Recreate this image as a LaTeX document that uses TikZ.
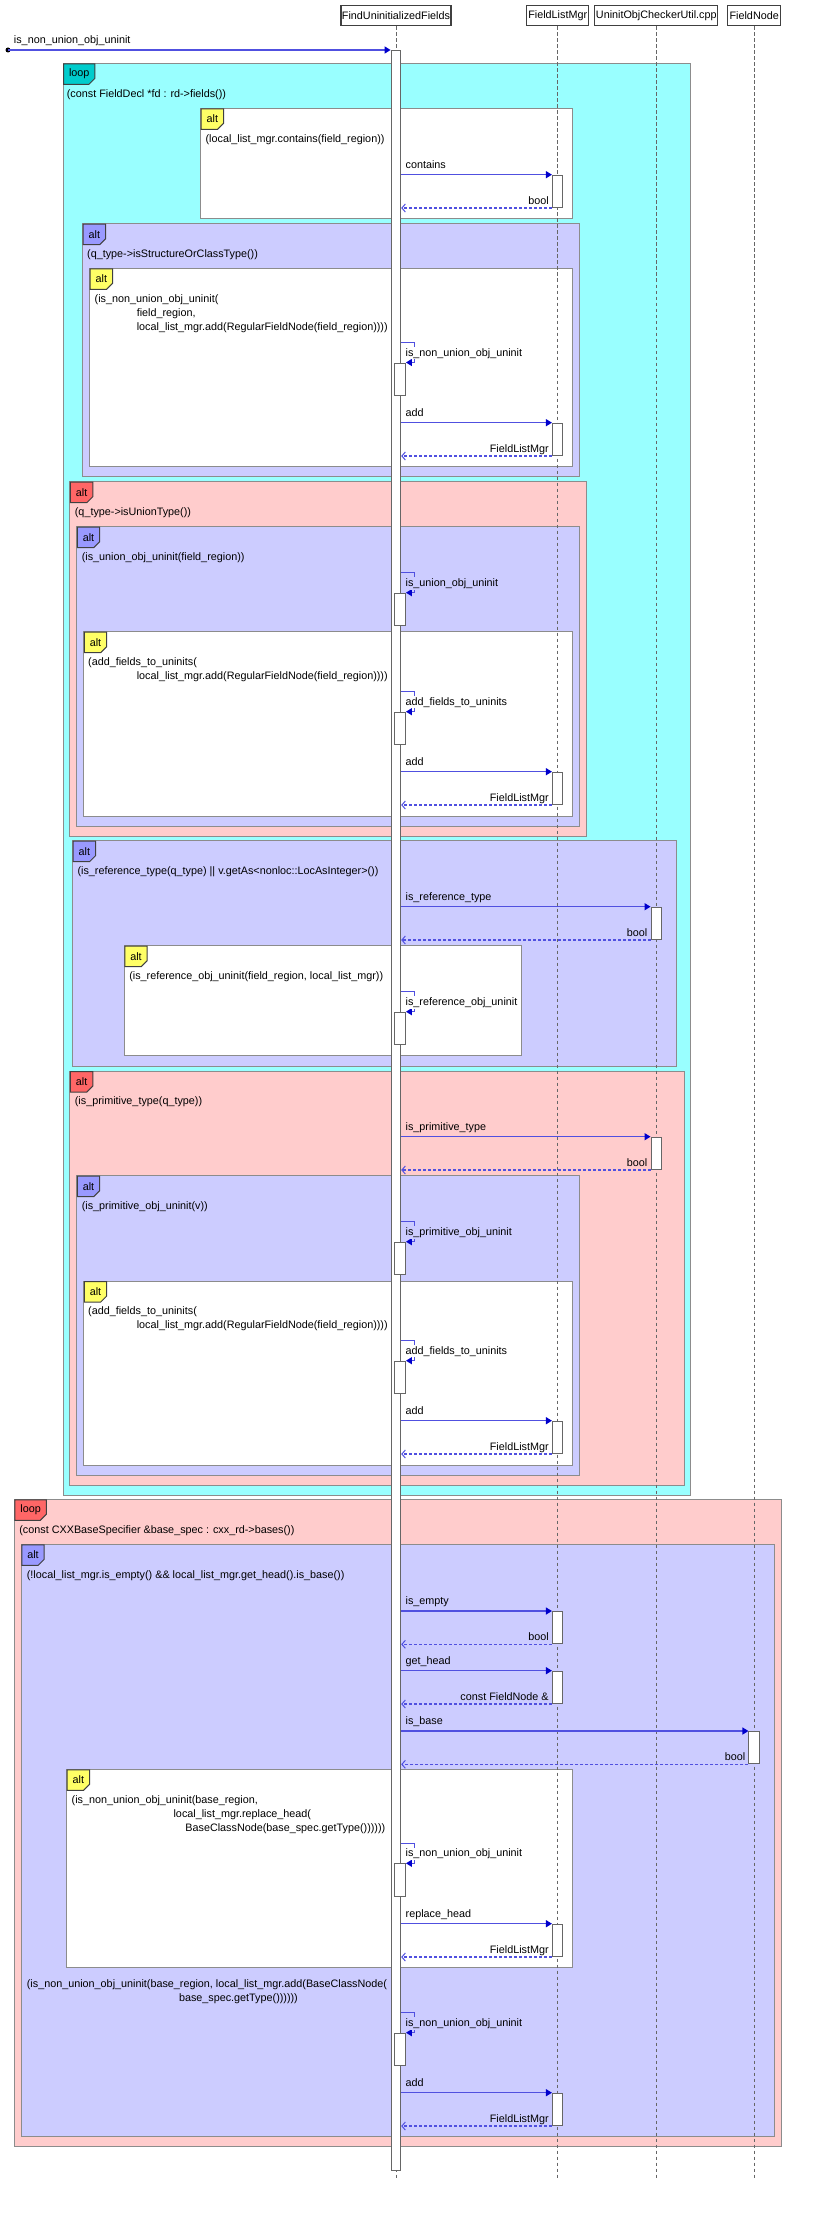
\documentclass[tikz,border=0pt]{standalone}
\usepackage{fontspec}
\setmainfont{Liberation Sans}
\usetikzlibrary{%
  arrows.meta,%
  shapes.misc% wg. chamfered rectangle
}
\definecolor{loopcyan}{HTML}{99FFFF}
\definecolor{looptag}{HTML}{00CCCC}
\definecolor{altpink}{HTML}{FFCCCC}
\definecolor{tagred}{HTML}{FF6666}
\definecolor{altlila}{HTML}{CCCCFF}
\definecolor{taglila}{HTML}{9999FF}
\definecolor{tagyellow}{HTML}{FFFF66}
\definecolor{msgblue}{HTML}{5050E0}
\definecolor{tipblue}{HTML}{0000CC}

\begin{document}
\begin{tikzpicture}[x=1pt,y=-1pt,
    every node/.style={font=\fontsize{10.8pt}{14pt}\selectfont, inner sep=0pt},
    participant/.style={draw=black!75, line width=1.3pt, fill=white, minimum height=20.5pt, anchor=north},
    lifeline/.style={draw=black!60, line width=1pt, dash pattern=on 3.5pt off 2.5pt},
    bar/.style={draw=black!60, fill=white, line width=1pt, minimum width=10.5pt, minimum height=32.3pt, anchor=north},
    frame/.style={draw=black!45, line width=1pt, fill=#1},
    tag/.style={chamfered rectangle, chamfered rectangle corners=south east, chamfered rectangle sep=3pt,
      draw=black!75, line width=1pt, fill=#1, minimum height=20.5pt, minimum width=17pt, inner xsep=2.5pt, anchor=north west},
    guard/.style={anchor=base west, align=left},
    msg/.style={draw=msgblue, line width=1.3pt, -{Triangle[length=6pt,width=7pt,color=tipblue]}},
    ret/.style={draw=msgblue, line width=1.1pt, dash pattern=on 3pt off 2pt, -{Straight Barb[length=3.5pt,width=8pt,line width=1pt]}},
    mlabel/.style={anchor=base west, xshift=3.8pt, yshift=6.6pt},
    rlabel/.style={anchor=base east, xshift=-2.7pt, yshift=3.5pt},
    slabel/.style={anchor=base west, xshift=3.8pt, yshift=-13.6pt, fill=#1, inner ysep=1pt}
  ]
  \fill[white] (0,0) rectangle (837,2234);
  \useasboundingbox (0,0) rectangle (837,2234);

  % loop over the fields
  \draw[frame=loopcyan] (63,63.3) rectangle (690.8,1495);
  \node[tag=looptag, minimum width=26.5pt] (t1) at (63,63.3) {loop};
  \node[guard] (g1) at (66.7,97.3) {(const FieldDecl *fd : rd->fields())};

  \draw[frame=white] (200.6,108.3) rectangle (572,219);
  \node[tag=tagyellow] (t2) at (200.6,108.3) {alt};
  \node[guard] (g2) at (205.4,142.3) {(local\_list\_mgr.contains(field\_region))};

  %structure or class
  \draw[frame=altlila] (82.7,223.7) rectangle (579,476.7);
  \node[tag=taglila] (t3) at (82.7,223.7) {alt};
  \node[guard] (g3) at (87,257.3) {(q\_type->isStructureOrClassType())};

  \draw[frame=white] (89.6,268.3) rectangle (572,466.7);
  \node[tag=tagyellow] (t4) at (89.6,268.3) {alt};
  % base of a multi-line guard = its last line
  \node[guard] (g4) at (94.5,330.3) {(is\_non\_union\_obj\_uninit(\\\hspace*{42.1pt}field\_region,\\\hspace*{42.1pt}local\_list\_mgr.add(RegularFieldNode(field\_region))))};

  %union
  \draw[frame=altpink] (69.9,481.7) rectangle (586,836);
  \node[tag=tagred] (t5) at (69.9,481.7) {alt};
  \node[guard] (g5) at (74.7,515.3) {(q\_type->isUnionType())};

  \draw[frame=altlila] (76.8,526.7) rectangle (579,826);
  \node[tag=taglila] (t6) at (76.8,526.7) {alt};
  \node[guard] (g6) at (81.6,560.3) {(is\_union\_obj\_uninit(field\_region))};

  \draw[frame=white] (83.8,631.7) rectangle (572,816);
  \node[tag=tagyellow] (t7) at (83.8,631.7) {alt};
  \node[guard] (g7) at (88,679.3) {(add\_fields\_to\_uninits(\\\hspace*{48.6pt}local\_list\_mgr.add(RegularFieldNode(field\_region))))};

  %reference
  \draw[frame=altlila] (72.6,840.7) rectangle (676.6,1066);
  \node[tag=taglila] (t8) at (72.6,840.7) {alt};
  \node[guard] (g8) at (77.4,874.3) {(is\_reference\_type(q\_type) || v.getAs<nonloc::LocAsInteger>())};

  \draw[frame=white] (124.3,945.7) rectangle (521.9,1055.7);
  \node[tag=tagyellow] (t9) at (124.3,945.7) {alt};
  \node[guard] (g9) at (129.1,979.7) {(is\_reference\_obj\_uninit(field\_region, local\_list\_mgr))};

  %primitive
  \draw[frame=altpink] (69.9,1071) rectangle (684.1,1485);
  \node[tag=tagred] (t10) at (69.9,1071) {alt};
  \node[guard] (g10) at (74.7,1104.7) {(is\_primitive\_type(q\_type))};

  \draw[frame=altlila] (76.8,1175.7) rectangle (579,1475);
  \node[tag=taglila] (t11) at (76.8,1175.7) {alt};
  \node[guard] (g11) at (81.6,1209) {(is\_primitive\_obj\_uninit(v))};

  \draw[frame=white] (83.8,1281) rectangle (572,1465);
  \node[tag=tagyellow] (t12) at (83.8,1281) {alt};
  \node[guard] (g12) at (88,1328) {(add\_fields\_to\_uninits(\\\hspace*{48.6pt}local\_list\_mgr.add(RegularFieldNode(field\_region))))};

  % loop over the bases
  \draw[frame=altpink] (14.4,1499.3) rectangle (781.8,2146.7);
  \node[tag=tagred, minimum width=26.5pt] (t13) at (14.4,1499.3) {loop};
  \node[guard] (g13) at (19.2,1533.3) {(const CXXBaseSpecifier \&base\_spec : cxx\_rd->bases())};

  \draw[frame=altlila] (21.3,1544.3) rectangle (774.8,2136.7);
  \node[tag=taglila] (t14) at (21.3,1544.3) {alt};
  \node[guard] (g14) at (26.7,1578) {(!local\_list\_mgr.is\_empty() \&\& local\_list\_mgr.get\_head().is\_base())};
  \node[guard] (g14b) at (26.7,2001.3) {(is\_non\_union\_obj\_uninit(base\_region, local\_list\_mgr.add(BaseClassNode(\\\hspace*{152.1pt}base\_spec.getType())))))};

  \draw[frame=white] (66.7,1769.3) rectangle (572,1967.7);
  \node[tag=tagyellow] (t15) at (66.7,1769.3) {alt};
  \node[guard] (g15) at (71.5,1831) {(is\_non\_union\_obj\_uninit(base\_region,\\\hspace*{101.9pt}local\_list\_mgr.replace\_head(\\\hspace*{113.7pt}BaseClassNode(base\_spec.getType())))))};

  %participants
  \node[participant, minimum width=110pt] (fuf) at (396,4.7) {FindUninitializedFields};
  \node[participant, minimum width=62pt] (flm) at (557.7,4.7) {FieldListMgr};
  \node[participant, minimum width=123pt] (uocu) at (656.3,4.7) {UninitObjCheckerUtil.cpp};
  \node[participant, minimum width=53pt] (fn) at (754.2,4.7) {FieldNode};
  \coordinate (bottom) at (0,2178);
  \foreach \who in {fuf,flm,uocu,fn}
    \draw[lifeline] (\who.south) -- (\who.south |- bottom);

  \node[bar, minimum width=9.6pt, minimum height=2120pt] (fufbar) at (395.9,50) {};
  \node[circle, fill=black, minimum size=5pt] (start) at (8,50) {};
  \draw[msg] (start.center) -- (fufbar.north west) node[pos=0, mlabel, xshift=1.5pt] {is\_non\_union\_obj\_uninit};

  %calls and answers
  \foreach \i/\who/\y/\call/\answer in {
      1/flm/174.7/contains/bool,
      2/flm/422.7/add/FieldListMgr,
      3/flm/771.7/add/FieldListMgr,
      4/uocu/906.7/is\_reference\_type/bool,
      5/uocu/1136.7/is\_primitive\_type/bool,
      6/flm/1420.7/add/FieldListMgr,
      7/flm/1611/is\_empty/bool,
      8/flm/1670.7/get\_head/const FieldNode \&,
      9/fn/1731/is\_base/bool,
      10/flm/1923.7/replace\_head/FieldListMgr,
      11/flm/2092.7/add/FieldListMgr}{
    \node[bar] (call\i) at (\who.south |- 0,\y) {};
    \draw[msg] (fufbar.east |- call\i.north) -- (call\i.north west) node[pos=0, mlabel] {\call};
    \draw[ret] (call\i.south west) -- (call\i.south west -| fufbar.east) node[pos=0, rlabel] {\answer};
  }

  %self calls
  \foreach \i/\y/\what/\bgcol in {
      1/362.5/is\_non\_union\_obj\_uninit/white,
      2/592.7/is\_union\_obj\_uninit/altlila,
      3/711.7/add\_fields\_to\_uninits/white,
      4/1011.7/is\_reference\_obj\_uninit/white,
      5/1241.7/is\_primitive\_obj\_uninit/altlila,
      6/1360.7/add\_fields\_to\_uninits/white,
      7/1863.3/is\_non\_union\_obj\_uninit/white,
      8/2032.7/is\_non\_union\_obj\_uninit/altlila}{
    \node[bar] (self\i) at (400.2,\y) {};
    \draw[msg] (fufbar.east |- self\i.north) ++(0,20pt) -- ++(13.3pt,0) node[pos=0, slabel=\bgcol] {\what} |- (self\i.north east);
  }
\end{tikzpicture}
\end{document}
